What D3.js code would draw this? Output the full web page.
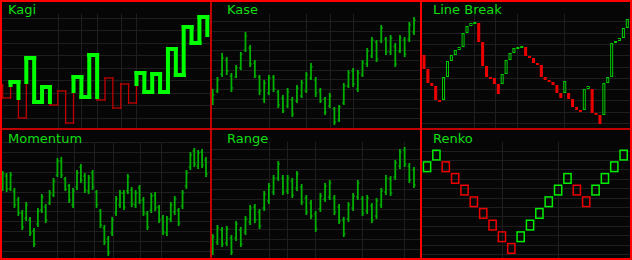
<!DOCTYPE html>
<html>
<head>
<meta charset="utf-8">
<script src="https://cdn.jsdelivr.net/npm/d3@7"></script>
<style>
  html, body { margin: 0; padding: 0; background: #000; }
  svg { display: block; }
</style>
</head>
<body>
<div id="chart"></div>
<script>
/* ---- data ---- */
// kagi: start level, then the level every vertical stroke ends at
const kagiLevels = [41, 28, 44, 8, 68, 24, 39, 21, 35, 3, 49, 29, 71, 26, 48, 18, 42, 23, 53, 34, 52, 34, 77, 51, 99, 83, 109, 91];
const kagiSeparators = [7, 10, 12, 15, 17];

const kaseHigh  = [37, 49, 73, 69, 53, 61, 74, 94, 81, 66, 51, 46, 51, 51, 36, 31, 38, 29, 41, 46, 54, 63, 49, 38, 29, 33, 19, 21, 43, 56, 58, 56, 66, 78, 89, 86, 101, 89, 91, 83, 91, 89, 104, 109];
const kaseLow   = [21, 33, 49, 51, 34, 48, 56, 74, 59, 48, 31, 23, 31, 34, 18, 13, 18, 9, 23, 28, 33, 46, 29, 23, 11, 18, 1, 4, 21, 38, 39, 34, 49, 59, 68, 64, 83, 71, 71, 59, 73, 69, 84, 91];
const kaseOpen  = [27, 35, 52, 66, 50, 49, 58, 76, 78, 63, 49, 27, 33, 49, 34, 28, 20, 26, 25, 30, 35, 48, 46, 35, 27, 20, 17, 6, 23, 40, 55, 37, 51, 62, 70, 84, 85, 87, 74, 80, 75, 86, 87, 94];
const kaseClose = [31, 46, 68, 55, 38, 58, 72, 90, 62, 50, 35, 43, 48, 37, 21, 15, 34, 12, 38, 43, 51, 59, 33, 25, 14, 30, 4, 19, 40, 53, 42, 53, 63, 75, 86, 67, 98, 74, 88, 62, 88, 72, 101, 106];
const kaseSeparators = [12, 20, 25, 30];

// line break: first open, then the close of every line
const lineBreakStart = 71;
const lineBreakClose = [57, 43, 40, 26, 24, 49, 65, 71, 76, 79, 93, 100, 103, 104, 84, 60, 49, 48, 42, 32,
  52, 66, 73, 78, 79, 80, 70, 68, 63, 61, 49, 46, 44, 41, 33, 28, 45, 27, 19, 16, 14, 37, 40, 13, 11, 2,
  43, 49, 83, 85, 88, 98, 107];
const lineBreakSeparators = [12.8, 18.2, 23.8, 35.8];

const momHigh  = [87, 85, 86, 70, 61, 48, 56, 41, 30, 50, 64, 54, 68, 80, 100, 101, 81, 74, 70, 88, 94, 85, 83, 88, 68, 49, 33, 22, 41, 62, 68, 68, 84, 71, 68, 73, 61, 47, 65, 66, 53, 43, 42, 56, 62, 50, 68, 88, 106, 110, 108, 109, 101];
const momLow   = [67, 66, 67, 50, 42, 28, 37, 22, 11, 31, 45, 35, 53, 61, 81, 80, 67, 55, 50, 68, 75, 65, 64, 68, 50, 30, 13, 2, 22, 42, 50, 48, 64, 51, 50, 54, 42, 28, 45, 47, 35, 23, 22, 36, 43, 32, 49, 69, 88, 91, 89, 90, 81];
const momOpen  = [70, 82, 69, 67, 58, 45, 40, 38, 27, 34, 48, 51, 55, 63, 83, 97, 79, 72, 53, 71, 91, 82, 67, 85, 66, 47, 30, 19, 25, 45, 53, 65, 67, 68, 53, 70, 58, 44, 48, 63, 51, 40, 25, 39, 46, 48, 52, 72, 91, 107, 92, 106, 98];
const momClose = [84, 69, 83, 53, 45, 31, 53, 25, 14, 47, 61, 38, 65, 77, 97, 83, 69, 58, 67, 85, 78, 68, 80, 71, 53, 33, 16, 5, 38, 59, 65, 51, 81, 54, 65, 57, 45, 31, 62, 50, 38, 26, 39, 53, 59, 35, 65, 85, 103, 94, 105, 93, 84];
const momSeparators = [14, 18.2, 23.3, 28.3, 35.2, 40.4];

const rangeHigh  = [24, 33, 31, 32, 23, 37, 31, 42, 53, 54, 49, 67, 75, 83, 97, 83, 83, 80, 87, 74, 63, 58, 47, 65, 75, 78, 63, 54, 41, 56, 65, 78, 62, 63, 55, 60, 70, 83, 82, 98, 109, 111, 95, 91];
const rangeLow   = [3, 13, 11, 12, 3, 17, 11, 23, 33, 35, 29, 47, 54, 63, 77, 63, 64, 60, 67, 53, 43, 39, 26, 46, 56, 58, 43, 34, 21, 36, 47, 58, 42, 44, 35, 39, 50, 63, 62, 78, 89, 91, 75, 70];
const rangeOpen  = [6, 16, 28, 15, 20, 20, 28, 26, 36, 51, 46, 50, 57, 66, 80, 80, 67, 77, 70, 71, 60, 55, 44, 49, 59, 61, 60, 51, 38, 39, 50, 61, 59, 47, 52, 42, 53, 66, 79, 81, 92, 108, 92, 88];
const rangeClose = [21, 30, 14, 29, 6, 34, 14, 39, 50, 38, 32, 64, 72, 80, 94, 66, 80, 63, 84, 56, 46, 42, 29, 62, 72, 75, 46, 37, 24, 53, 62, 75, 45, 60, 38, 57, 67, 80, 65, 95, 106, 94, 78, 73];
const rangeSeparators = [12, 15.9, 21.9, 31.9, 40.9];

const renkoLevels = [7, 8, 7, 6, 5, 4, 3, 2, 1, 0, 1, 2, 3, 4, 5, 6, 5, 4, 5, 6, 7, 8];
const renkoSeparators = [8, 14];

/* ---- layout ---- */
const W = 632, H = 260;
const colX = [0, 210, 420], colW = [210, 210, 212];
const rowY = [0, 128], rowH = [128, 132];

const GREEN = '#00ee00', RED = '#ee0000', BAR = '#00b000';
const GRID = '#1e1e1e';

const svg = d3.select('#chart').append('svg')
  .attr('width', W).attr('height', H)
  .attr('xmlns', 'http://www.w3.org/2000/svg');

svg.append('rect').attr('width', W).attr('height', H).attr('fill', '#060606');

function makePanel(col, row, title, titleX, gridStart, gridStep, separators, x) {
  var g = svg.append('g').attr('transform', 'translate(' + colX[col] + ',' + rowY[row] + ')');
  var y = row === 0
    ? d3.scaleLinear().domain([0, 112]).range([126, 14])
    : d3.scaleLinear().domain([0, 116]).range([130, 14]);
  var w = colW[col], h = rowH[row];

  g.selectAll('line.hgrid')
    .data(d3.range(gridStart, y.domain()[1], gridStep))
    .join('line')
    .attr('x1', 0).attr('x2', w)
    .attr('y1', d => Math.round(y(d)) + 0.5).attr('y2', d => Math.round(y(d)) + 0.5)
    .attr('stroke', GRID).attr('stroke-width', 1);

  g.selectAll('line.vgrid')
    .data(separators)
    .join('line')
    .attr('x1', d => Math.round(x(d)) + 0.5).attr('x2', d => Math.round(x(d)) + 0.5)
    .attr('y1', 14).attr('y2', h)
    .attr('stroke', GRID).attr('stroke-width', 1);

  g.append('text')
    .attr('x', titleX).attr('y', row === 0 ? 13.5 : 15)
    .attr('font-family', 'DejaVu Sans, Verdana, sans-serif')
    .attr('font-size', 13)
    .attr('fill', '#11dd11')
    .text(title);

  return { g: g, y: y };
}

function drawOHLC(p, x, hi, lo, op, cl) {
  var y = p.y;
  var bars = p.g.append('g').attr('stroke', BAR);
  bars.selectAll('line.hl').data(hi).join('line')
    .attr('x1', (d, i) => x(i)).attr('x2', (d, i) => x(i))
    .attr('y1', d => y(d)).attr('y2', (d, i) => y(lo[i]))
    .attr('stroke-width', 1.8);
  bars.selectAll('line.op').data(op).join('line')
    .attr('x1', (d, i) => x(i) - 1.8).attr('x2', (d, i) => x(i))
    .attr('y1', d => y(d)).attr('y2', d => y(d))
    .attr('stroke-width', 1);
  bars.selectAll('line.cl').data(cl).join('line')
    .attr('x1', (d, i) => x(i)).attr('x2', (d, i) => x(i) + 1.8)
    .attr('y1', d => y(d)).attr('y2', d => y(d))
    .attr('stroke-width', 1);
}

/* ---- Kagi ---- */
(function () {
  var x = d3.scaleLinear().domain([0, kagiLevels.length - 2]).range([2.7, 207.3]);
  var p = makePanel(0, 0, 'Kagi', 8, 8.5, 12.5, kagiSeparators, x);
  var y = p.y;

  // walk the reversals and split strokes where the line changes thickness
  var segs = [], thick = false;
  var lastHigh = kagiLevels[0], lastLow = -Infinity;
  segs.push({ x1: x(-0.35), y1: kagiLevels[0], x2: x(0), y2: kagiLevels[0], thick: false });
  for (var i = 0; i < kagiLevels.length - 1; i++) {
    var a = kagiLevels[i], b = kagiLevels[i + 1], xi = x(i);
    if (b > a) {
      if (!thick && b > lastHigh) {
        segs.push({ x1: xi, y1: a, x2: xi, y2: lastHigh, thick: false });
        segs.push({ x1: xi, y1: lastHigh, x2: xi, y2: b, thick: true });
        thick = true;
      } else {
        segs.push({ x1: xi, y1: a, x2: xi, y2: b, thick: thick });
      }
      lastHigh = b;
    } else {
      if (thick && b < lastLow) {
        segs.push({ x1: xi, y1: a, x2: xi, y2: lastLow, thick: true });
        segs.push({ x1: xi, y1: lastLow, x2: xi, y2: b, thick: false });
        thick = false;
      } else {
        segs.push({ x1: xi, y1: a, x2: xi, y2: b, thick: thick });
      }
      lastLow = b;
    }
    if (i < kagiLevels.length - 2) {
      segs.push({ x1: xi, y1: b, x2: x(i + 1), y2: b, thick: thick });
    }
  }

  p.g.selectAll('line.thin').data(segs.filter(s => !s.thick)).join('line')
    .attr('x1', d => d.x1).attr('x2', d => d.x2)
    .attr('y1', d => y(d.y1)).attr('y2', d => y(d.y2))
    .attr('stroke', '#c00000').attr('stroke-width', 1.3)
    .attr('stroke-linecap', 'square');
  p.g.selectAll('line.thick').data(segs.filter(s => s.thick)).join('line')
    .attr('x1', d => d.x1).attr('x2', d => d.x2)
    .attr('y1', d => y(d.y1)).attr('y2', d => y(d.y2))
    .attr('stroke', '#00ff00').attr('stroke-width', 4)
    .attr('stroke-linecap', 'square');
})();

/* ---- Kase ---- */
(function () {
  var x = d3.scaleLinear().domain([0, kaseHigh.length - 1]).range([2.7, 204]);
  var p = makePanel(1, 0, 'Kase', 17, 8, 9.7, kaseSeparators, x);
  drawOHLC(p, x, kaseHigh, kaseLow, kaseOpen, kaseClose);
})();

/* ---- Line Break ---- */
(function () {
  var x = d3.scaleLinear().domain([0, lineBreakClose.length - 1]).range([4, 207.3]);
  var p = makePanel(2, 0, 'Line Break', 13, 3, 11.3, lineBreakSeparators, x);
  var y = p.y;

  var lines = [], prevOpen = lineBreakStart, prevClose = lineBreakStart;
  lineBreakClose.forEach(function (c, i) {
    var top = Math.max(prevOpen, prevClose), bot = Math.min(prevOpen, prevClose);
    var o = i === 0 ? lineBreakStart : (c > top ? top : (c < bot ? bot : prevClose));
    lines.push({ i: i, open: o, close: c, up: c > o });
    prevOpen = o; prevClose = c;
  });

  p.g.selectAll('rect.lb').data(lines).join('rect')
    .attr('x', d => x(d.i) - 1)
    .attr('width', 2)
    .attr('y', d => y(Math.max(d.open, d.close)) + 0.5)
    .attr('height', d => Math.max(1, Math.abs(y(d.open) - y(d.close)) - 1))
    .attr('fill', d => d.up ? 'none' : RED)
    .attr('stroke', d => d.up ? '#00cc00' : RED)
    .attr('stroke-width', 1);
})();

/* ---- Momentum ---- */
(function () {
  var x = d3.scaleLinear().domain([0, momHigh.length - 1]).range([2.7, 206]);
  var p = makePanel(0, 1, 'Momentum', 8, 7, 9.9, momSeparators, x);
  drawOHLC(p, x, momHigh, momLow, momOpen, momClose);
})();

/* ---- Range ---- */
(function () {
  var x = d3.scaleLinear().domain([0, rangeHigh.length - 1]).range([2.7, 204]);
  var p = makePanel(1, 1, 'Range', 17, 9, 10, rangeSeparators, x);
  drawOHLC(p, x, rangeHigh, rangeLow, rangeOpen, rangeClose);
})();

/* ---- Renko ---- */
(function () {
  var xb = d3.scaleBand().domain(d3.range(renkoLevels.length)).range([2.7, 208]).paddingInner(0.07);
  var sepX = d => xb(Math.floor(d)) + xb.bandwidth() / 2;
  var p = makePanel(2, 1, 'Renko', 13, 4, 9.4, renkoSeparators, sepX);
  var ly = d3.scaleLinear().domain([0, 9]).range([126, 21]);

  p.g.selectAll('rect.brick').data(renkoLevels).join('rect')
    .attr('x', (d, i) => xb(i) + 0.75)
    .attr('width', xb.bandwidth() - 1.5)
    .attr('y', d => ly(d + 1) + 1.25)
    .attr('height', d => ly(d) - ly(d + 1) - 2)
    .attr('fill', 'none')
    .attr('stroke', (d, i) => (i === 0 || d > renkoLevels[i - 1]) ? GREEN : RED)
    .attr('stroke-width', 1.5);
})();

/* ---- panel borders ---- */
var frame = svg.append('g').attr('stroke', '#ff0000').attr('fill', 'none');
frame.append('rect').attr('x', 1).attr('y', 1).attr('width', 630).attr('height', 258).attr('stroke-width', 2);
frame.append('line').attr('x1', 211).attr('x2', 211).attr('y1', 0).attr('y2', H).attr('stroke-width', 1.5);
frame.append('line').attr('x1', 421).attr('x2', 421).attr('y1', 0).attr('y2', H).attr('stroke-width', 2);
frame.append('line').attr('x1', 0).attr('x2', W).attr('y1', 129).attr('y2', 129).attr('stroke-width', 1.5);
</script>
</body>
</html>
